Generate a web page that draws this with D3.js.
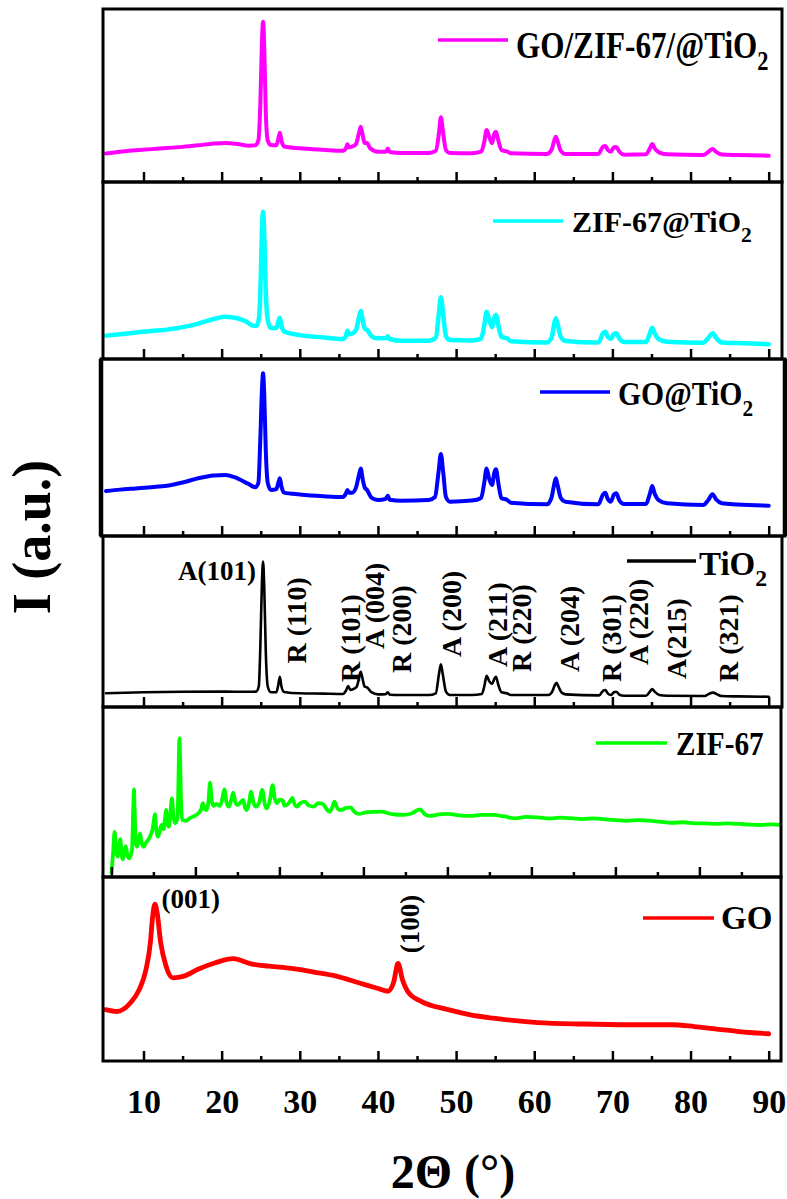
<!DOCTYPE html>
<html>
<head>
<meta charset="utf-8">
<script src="https://cdn.jsdelivr.net/npm/d3@7"></script>
<style>
	body { margin: 0; background: #fff; }
	text { font-family: "Liberation Serif", "Times New Roman", serif; font-weight: bold; fill: #000; }
</style>
</head>
<body>
<svg id="chart" width="787" height="1199"></svg>
<script>
/* global d3 */

// 2-theta (deg) vs relative intensity (% of panel height)
var goZifTio2 = [[5.2,16.5],[7,17.5],[9,18.3],[11,19.0],[13,19.6],[15,20.3],[17,21.2],[19,22.2],[20.5,22.6],[22,22.0],[23.5,21.0],[24.3,21.2],[24.7,24],[24.95,45],[25.15,80],[25.3,92.7],[25.45,78],[25.65,40],[25.9,24],[26.3,21.4],[27.0,21.2],[27.25,25],[27.45,28.5],[27.65,24],[28.0,20.5],[30,19.5],[33,18.6],[35.5,18.0],[35.9,19.5],[36.1,21.8],[36.3,20],[36.7,20.5],[37.2,22],[37.55,28],[37.8,32],[38.05,27],[38.3,22.5],[38.6,22.5],[39.0,19.5],[40,17.5],[41.0,17.5],[41.25,19.3],[41.5,17.3],[43,16.8],[46.5,16.8],[47.4,18],[47.8,28],[48.05,37.4],[48.3,30],[48.7,18.5],[49.2,16.8],[52,16.6],[53.2,17.5],[53.6,23],[53.9,30],[54.25,26],[54.6,22.4],[54.9,28],[55.1,29.1],[55.4,24],[55.8,18.5],[56.6,17.5],[57,16.6],[61.6,16.2],[62.2,18.5],[62.5,23],[62.75,26.2],[63.0,23.5],[63.4,18],[64,16.2],[68.2,16.2],[68.8,20.4],[69.1,20.8],[69.4,18.6],[69.8,17.5],[70.2,20.1],[70.5,20.2],[70.9,17.5],[71.5,15.8],[74.3,16.0],[74.8,19.5],[75.1,22],[75.4,19.5],[76.0,17.0],[77,16.0],[81.6,15.6],[82.3,17.5],[82.8,19.1],[83.3,17.3],[84,15.9],[86,15.6],[90,15.2]];

var zifTio2 = [[5.2,13.2],[7,14.0],[9,15.0],[11,15.8],[13,16.6],[15,18.0],[17,20.0],[19,22.6],[20.5,23.9],[22,23.0],[23.2,21.0],[24.0,18.8],[24.5,18.8],[24.8,24],[25.0,45],[25.15,72],[25.3,83.2],[25.45,70],[25.65,38],[25.9,22],[26.3,17.5],[27.0,17.5],[27.25,21],[27.45,23.3],[27.65,19],[28.0,15.5],[30,13.5],[33,12.2],[35.5,11.3],[35.9,13],[36.1,16.0],[36.3,14],[36.7,14.3],[37.2,16.5],[37.55,23],[37.8,27.1],[38.05,22],[38.3,17.3],[38.6,16.5],[39.2,12.8],[40,11.7],[41.0,11.8],[41.25,12.8],[41.5,11.3],[43,10.3],[46.5,10.3],[47.4,12],[47.8,26],[48.05,34.9],[48.3,27],[48.7,13],[49.2,10.7],[52,10.5],[53.2,11.5],[53.6,19],[53.9,26.7],[54.25,22],[54.6,18.0],[54.9,23.5],[55.1,24.9],[55.4,19],[55.8,12.5],[56.6,11.5],[57,10.0],[61.6,9.3],[62.2,12.0],[62.5,18.5],[62.75,23.0],[63.0,19.5],[63.4,12.5],[64,10.2],[68.2,9.3],[68.8,14.5],[69.1,15.4],[69.4,12.5],[69.8,11.5],[70.2,14.2],[70.5,14.5],[70.9,11.5],[71.5,9.6],[74.3,9.6],[74.8,14.5],[75.1,17.7],[75.4,14.5],[76.0,11.0],[77,9.8],[81.6,9.2],[82.3,12.0],[82.8,14.5],[83.3,11.8],[84,9.3],[86,9.0],[90,8.3]];

var goTio2 = [[5.2,25.4],[7,26.2],[9,26.9],[11,27.6],[13,28.4],[15,30.2],[17,32.6],[19,34.2],[20.5,34.5],[22,32.6],[23.4,29.5],[24.3,27.5],[24.7,30],[24.95,55],[25.15,82],[25.3,91.9],[25.45,80],[25.65,48],[25.9,30],[26.3,26.0],[27.0,26.5],[27.25,30],[27.45,32.6],[27.65,28],[28.0,24.5],[30,23.5],[33,22.5],[35.5,22.0],[35.9,24],[36.1,26.0],[36.3,24.5],[36.7,24.5],[37.2,27.5],[37.55,34],[37.8,38.2],[38.05,32],[38.3,27.5],[38.6,26.0],[39.2,21.5],[40,20.3],[41.0,21],[41.25,22.8],[41.5,20.5],[43,19.9],[46.5,20.3],[47.3,22],[47.75,36],[48.05,46.3],[48.35,36],[48.7,22],[49.2,19.4],[52,20.0],[53.2,21.5],[53.6,30],[53.9,38.2],[54.25,32],[54.6,28.8],[54.9,36],[55.1,37.7],[55.4,30],[55.8,21.3],[56.5,20.5],[57,18.8],[61.6,17.9],[62.2,21.5],[62.5,28],[62.75,32.6],[63.0,28.5],[63.4,21.5],[64,19.4],[68.2,17.9],[68.8,23.5],[69.1,24.5],[69.4,21],[69.8,19.4],[70.2,23.5],[70.5,24.1],[70.9,20],[71.5,18.1],[74.3,18.1],[74.8,24],[75.1,28.2],[75.4,24],[76.0,20.0],[77,18.5],[81.6,17.5],[82.3,20.5],[82.8,23.6],[83.3,20.5],[84,18.5],[86,17.8],[90,17.1]];

var tio2 = [[5.2,8.0],[10,8.6],[15,8.9],[20,9.0],[23.5,8.9],[24.4,9.0],[24.75,12],[24.95,35],[25.15,72],[25.3,85],[25.45,70],[25.65,32],[25.9,12],[26.3,8.6],[27.0,8.6],[27.25,13],[27.45,17.7],[27.65,12],[28.0,8.8],[30,8.0],[33,7.8],[35.5,7.6],[35.9,9.5],[36.2,12.3],[36.45,10],[36.8,10.4],[37.3,12],[37.6,17.5],[37.8,20.6],[38.05,16],[38.3,11.9],[38.6,11.5],[39.2,8.5],[40,7.4],[41.0,7.5],[41.25,8.6],[41.5,7.2],[43,7.0],[46.5,7.0],[47.4,8],[47.8,19],[48.05,25.0],[48.3,19],[48.7,9],[49.2,7.0],[52,7.0],[53.3,7.6],[53.65,13],[53.9,18.3],[54.25,15],[54.6,13.5],[54.9,16.5],[55.1,17.7],[55.4,13],[55.8,8.6],[56.5,8.0],[57,7.0],[61.8,7.0],[62.3,9.0],[62.6,12.5],[62.85,14.2],[63.1,12],[63.5,8.5],[64,7.4],[68.3,6.8],[68.8,9.5],[69.1,9.9],[69.4,8],[69.8,7.0],[70.2,8.6],[70.5,8.9],[70.9,7.2],[71.5,6.6],[74.3,6.6],[74.8,9],[75.1,10.5],[75.4,9],[76.0,7.0],[77,6.6],[81.8,6.4],[82.4,7.8],[82.9,8.4],[83.4,7.4],[84,6.4],[86,6.2],[90,6.0]];

var zif67 = [[5.01,2.5],[5.2,14],[5.38,26.6],[5.55,16],[5.76,11.9],[5.9,17],[6.07,22.2],[6.2,14],[6.35,10.4],[6.55,15],[6.71,18.2],[6.9,13],[7.14,11.0],[7.45,16],[7.6,40],[7.68,51.6],[7.78,38],[7.9,20],[8.05,17.8],[8.25,22],[8.42,25.7],[8.6,20],[8.85,17.8],[9.1,20],[9.38,21.8],[9.7,25],[9.92,28.6],[10.05,33],[10.18,36.9],[10.3,30],[10.55,23.7],[10.75,27],[10.98,30.6],[11.2,28],[11.4,35],[11.51,39.4],[11.65,32],[11.83,29.6],[12.0,36],[12.2,46.3],[12.38,36],[12.57,31.6],[12.85,34],[12.98,55],[13.05,75],[13.11,81.6],[13.18,70],[13.28,45],[13.43,33.5],[13.9,33.1],[14.3,34.5],[14.71,35.5],[15.1,36.5],[15.51,38.4],[15.7,40],[15.88,43.4],[16.1,40],[16.31,39.4],[16.55,44],[16.74,55.5],[16.95,45],[17.15,41.8],[17.5,43],[17.9,41.8],[18.2,46],[18.44,51.6],[18.7,44],[18.98,41.4],[19.25,45],[19.5,49.6],[19.75,44],[20.04,42.4],[20.4,44],[20.68,45.3],[20.9,41],[21.11,39.4],[21.4,44],[21.63,50.2],[21.9,44],[22.17,41.4],[22.6,44],[22.96,51.2],[23.25,43],[23.5,40.4],[23.9,46],[24.19,54.1],[24.45,46],[24.73,43.4],[25.0,45.5],[25.37,45.3],[25.6,42],[25.9,42.4],[26.2,44],[26.54,46.6],[26.8,43],[27.07,41.4],[27.5,43.5],[28.04,44.3],[28.5,42],[29.1,41.4],[29.6,43.5],[30.17,42.9],[30.6,40],[30.96,38.4],[31.3,41],[31.55,44.3],[31.9,40.5],[32.3,39.4],[32.9,40.5],[33.46,41.0],[33.9,38.5],[34.43,37.1],[35.5,38.2],[37.1,38.4],[38.4,37],[39.75,36.5],[40.8,37.5],[41.73,39.8],[42.3,37],[42.95,35.9],[44,36.8],[45.08,37.1],[46.4,36.2],[47.75,35.9],[49.1,36.6],[50.42,36.5],[51.8,35.6],[53.07,34.5],[54.4,35.4],[55.74,35.1],[57.1,34.4],[58.4,34.9],[59.7,34.6],[61.07,34.1],[62.4,34.5],[63.74,33.9],[65.1,33.4],[66.4,33.1],[67.7,33.5],[69.06,33.1],[70.4,32.4],[71.74,31.9],[73.1,32.2],[74.39,31.6],[75.7,31.5],[77.06,31.2],[78.4,31.5],[79.71,31.2],[81.0,30.8],[82.38,30.6],[83.5,30.9],[84.7,30.6]];

var go = [[5.16,27.9],[6.6,26.9],[8.31,31.5],[9.45,38.8],[10.32,49.7],[10.88,64.3],[11.18,78.9],[11.46,85.2],[11.74,80.7],[12.2,64.3],[12.89,51.5],[13.75,45.2],[15.18,46.1],[16.9,49.7],[19.19,53.4],[21.48,55.6],[23.77,52.8],[26.06,51.5],[28.93,50.3],[31.79,48.3],[34.66,46.1],[37.52,42.5],[39.81,39.7],[41.25,37.9],[41.99,42.5],[42.57,53.0],[43.13,44.3],[43.94,37.0],[45.53,32.4],[48.98,27.9],[51.84,25.1],[54.71,23.3],[60.43,20.9],[66.16,20.1],[71.89,19.7],[77.63,19.7],[80.48,18.7],[83.35,17.3],[86.2,16.0],[90,14.8]];

var seriesData = [goZifTio2, zifTio2, goTio2, tio2, zif67, go];
var seriesColors = ["#ff00ff", "#00ffff", "#0000ff", "#000000", "#00ff00", "#ff0000"];
var seriesNames = [["GO/ZIF-67/@TiO", "2"], ["ZIF-67@TiO", "2"], ["GO@TiO", "2"], ["TiO", "2"], ["ZIF-67", ""], ["GO", ""]];

var majorTicks = [10, 20, 30, 40, 50, 60, 70, 80, 90];
var minorTicks = [15, 25, 35, 45, 55, 65, 75, 85];
var tickLabels = ["10", "20", "30", "40", "50", "60", "70", "80", "90"];
var zifMajorTicks = [5, 15, 25, 35, 45, 55, 65, 75];
var zifMinorTicks = [10, 20, 30, 40, 50, 60, 70, 80];

// peak labels: text, 2-theta, intensity where the label starts
var tio2PeakLabels = [["R (110)",29.62,25.4],["R (101)",36.49,14.6],["A (004)",39.52,33.9],["R (200)",42.95,19.9],["A (200)",49.44,29.2],["A (211)",55.27,23.4],["R (220)",58.43,20.5],["A (204)",64.45,20.5],["R (301)",69.89,14.6],["A (220)",73.28,24.6],["A(215)",78.14,16.4],["R (321)",84.8,14.6]];
var tio2MainLabel = ["A(101)", 24.4, 74.3];
var goPeakLabels = [["(001)", 12.3, 83, "h"], ["(100)", 44.1, 58.5, "v"]];

var svg = d3.select("#chart");

// panel frames (pixels) and legend placement
var frames = [
	{top: 9, bottom: 182, left: 103, right: 782, lw: 4, leg: {y: 40, x0: 438, x1: 508, tx: 516, base: 58, size: 38, sx: 0.82}},
	{top: 182, bottom: 359, left: 103, right: 782, lw: 4.5, leg: {y: 221, x0: 493, x1: 563, tx: 572, base: 232, size: 30, sx: 1}},
	{top: 359, bottom: 536, left: 101, right: 785, lw: 4, leg: {y: 392, x0: 540, x1: 610, tx: 618, base: 405, size: 33, sx: 0.9}},
	{top: 536, bottom: 707, left: 103, right: 782, lw: 2.6, leg: {y: 561, x0: 627, x1: 696, tx: 699, base: 575, size: 33, sx: 1}},
	{top: 707, bottom: 877, left: 103, right: 781, lw: 3.8, leg: {y: 743, x0: 596, x1: 667, tx: 676, base: 755, size: 34, sx: 0.86}},
	{top: 877, bottom: 1061, left: 103, right: 781, lw: 4.8, leg: {y: 918, x0: 643, x1: 714, tx: 721, base: 929, size: 33, sx: 1}}
];

var x = d3.scaleLinear().domain([10, 90]).range([143.5, 768.7]);
var xZif = d3.scaleLinear().domain([5, 85]).range([111.4, 783.4]);

function drawAxisTicks(g, xs, f, majors, minors) {
	g.append("g")
		.attr("transform", "translate(0," + f.bottom + ")")
		.call(d3.axisBottom(xs).tickValues(majors).tickSize(-10).tickFormat(""))
		.call(function(a) { a.select(".domain").remove(); })
		.selectAll("line").attr("stroke", "#000").attr("stroke-width", 2.5);
	g.append("g")
		.attr("transform", "translate(0," + f.bottom + ")")
		.call(d3.axisBottom(xs).tickValues(minors).tickSize(-5).tickFormat(""))
		.call(function(a) { a.select(".domain").remove(); })
		.selectAll("line").attr("stroke", "#000").attr("stroke-width", 2.5);
}

function drawLegend(g, f, i) {
	var L = f.leg;
	g.append("line")
		.attr("x1", L.x0).attr("x2", L.x1)
		.attr("y1", L.y).attr("y2", L.y)
		.attr("stroke", seriesColors[i])
		.attr("stroke-width", 3.5);
	var t = g.append("text")
		.attr("transform", "translate(" + L.tx + "," + L.base + ") scale(" + L.sx + ",1)")
		.style("font-size", L.size + "px");
	t.append("tspan").text(seriesNames[i][0]);
	if (seriesNames[i][1]) {
		t.append("tspan")
			.attr("dy", L.size * 0.32)
			.style("font-size", (L.size * 0.72) + "px")
			.text(seriesNames[i][1]);
	}
}

frames.forEach(function(f, i) {
	var xs = i === 4 ? xZif : x,
		y = d3.scaleLinear().domain([0, 100]).range([f.bottom, f.top]),
		g = svg.append("g"),
		line;

	g.append("clipPath").attr("id", "clip" + i)
		.append("rect")
		.attr("x", f.left).attr("y", f.top)
		.attr("width", f.right - f.left).attr("height", f.bottom - f.top);

	line = d3.line()
		.curve(d3.curveMonotoneX)
		.x(function(d) { return xs(d[0]); })
		.y(function(d) { return y(d[1]); });

	g.append("path")
		.datum(seriesData[i])
		.attr("clip-path", "url(#clip" + i + ")")
		.attr("fill", "none")
		.attr("stroke", seriesColors[i])
		.attr("stroke-width", f.lw)
		.attr("stroke-linejoin", "round")
		.attr("stroke-linecap", "round")
		.attr("d", line);

	if (i === 4) {
		drawAxisTicks(g, xs, f, zifMajorTicks, zifMinorTicks);
	} else {
		drawAxisTicks(g, xs, f, majorTicks, minorTicks);
	}

	g.append("rect")
		.attr("x", f.left).attr("y", f.top)
		.attr("width", f.right - f.left).attr("height", f.bottom - f.top)
		.attr("fill", "none")
		.attr("stroke", "#000")
		.attr("stroke-width", 3);

	// the GO@TiO2 frame has heavier side edges
	if (i === 2) {
		g.selectAll(".side")
			.data([f.left, f.right])
			.join("line")
			.attr("class", "side")
			.attr("x1", function(d) { return d; }).attr("x2", function(d) { return d; })
			.attr("y1", f.top).attr("y2", f.bottom)
			.attr("stroke", "#000")
			.attr("stroke-width", 4.5);
	}

	drawLegend(g, f, i);

	if (i === 3) {
		g.append("text")
			.attr("x", x(tio2MainLabel[1])).attr("y", y(tio2MainLabel[2]))
			.attr("text-anchor", "end")
			.style("font-size", "27px")
			.text(tio2MainLabel[0]);
		g.selectAll(".pk")
			.data(tio2PeakLabels)
			.join("text")
			.attr("class", "pk")
			.attr("transform", function(d) {
				return "translate(" + (x(d[1]) + 9.5) + "," + y(d[2]) + ") rotate(-90)";
			})
			.style("font-size", "28px")
			.text(function(d) { return d[0]; });
	}
	if (i === 5) {
		g.selectAll(".pk")
			.data(goPeakLabels)
			.join("text")
			.attr("class", "pk")
			.attr("transform", function(d) {
				return d[3] === "h" ?
					"translate(" + x(d[1]) + "," + y(d[2]) + ")" :
					"translate(" + (x(d[1]) + 9) + "," + y(d[2]) + ") rotate(-90)";
			})
			.style("font-size", "27px")
			.text(function(d) { return d[0]; });
	}
});

// bottom tick labels
svg.append("g")
	.attr("transform", "translate(0," + frames[5].bottom + ")")
	.call(d3.axisBottom(x).tickValues(majorTicks).tickSize(0).tickPadding(28)
		.tickFormat(function(d, i) { return tickLabels[i]; }))
	.call(function(a) { a.select(".domain").remove(); })
	.selectAll("text")
	.attr("fill", "#000")
	.style("font-family", "'Liberation Serif', serif")
	.style("font-weight", "bold")
	.style("font-size", "34px");

svg.append("text")
	.attr("x", 453).attr("y", 1188)
	.attr("text-anchor", "middle")
	.style("font-size", "48px")
	.text("2\u0398 (\u00b0)");

svg.append("text")
	.attr("transform", "translate(50,537) rotate(-90)")
	.attr("text-anchor", "middle")
	.style("font-size", "54px")
	.text("I (a.u.)");
</script>
</body>
</html>
